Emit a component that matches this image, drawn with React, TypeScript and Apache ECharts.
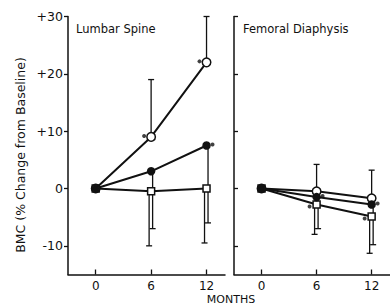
import React, { useEffect, useRef } from "react";
import * as echarts from "echarts";

const months = [0, 6, 12];
const yTicks = [-10, 0, 10, 20, 30];
const xTicks = [0, 6, 12];

const lumbarOpenCircle = [0, 9, 22];
const lumbarOpenCircleErr = [null, 19, 30];
const lumbarFilled = [0, 3, 7.5];
const lumbarFilledErr = [null, -7, -6];
const lumbarSquare = [0, -0.5, 0];
const lumbarSquareErr = [null, -10, -9.5];

const femoralOpenCircle = [0, -0.5, -1.7];
const femoralOpenCircleErr = [null, 4.2, 3.2];
const femoralFilled = [0, -1.5, -2.8];
const femoralFilledErr = [null, -7, -9.8];
const femoralSquare = [0, -2.8, -4.9];
const femoralSquareErr = [null, -8, -11.3];

// significance marks: [month, value]
const lumbarSigLeft = [[6, 9], [12, 22]];
const lumbarSigRight = [[12, 7.5]];
const femoralSigLeft = [[6, -2.8], [12, -4.9]];
const femoralSigRight = [[6, -1.5], [12, -2.8]];

const FONT = "DejaVu Sans";
const INK = "#111";

function pairs(ys: number[]) {
  return months.map((m, i) => [m, ys[i]]);
}
function errData(ys: number[], errs: (number | null)[]) {
  const out: number[][] = [];
  months.forEach((m, i) => {
    if (errs[i] !== null) out.push([m, ys[i], errs[i] as number]);
  });
  return out;
}

function errSeries(panel: number, ys: number[], errs: (number | null)[], off: number) {
  return {
    type: "custom",
    xAxisIndex: panel,
    yAxisIndex: panel,
    data: errData(ys, errs),
    encode: { x: 0, y: [1, 2] },
    z: 1,
    renderItem: (params: any, api: any) => {
      const x = api.value(0);
      const y = api.value(1);
      const e = api.value(2);
      const p0 = api.coord([x, y]);
      const p1 = api.coord([x, e]);
      const px = p0[0] + off;
      const st = { stroke: INK, lineWidth: 1.3 };
      return {
        type: "group",
        children: [
          { type: "line", shape: { x1: px, y1: p0[1], x2: px, y2: p1[1] }, style: st },
          { type: "line", shape: { x1: px - 3, y1: p1[1], x2: px + 3, y2: p1[1] }, style: st },
        ],
      };
    },
  };
}

function lineSeries(panel: number, ys: number[], symbol: string, size: number, fill: string) {
  return {
    type: "line",
    xAxisIndex: panel,
    yAxisIndex: panel,
    data: pairs(ys),
    symbol,
    symbolSize: size,
    showAllSymbol: true,
    z: 3,
    lineStyle: { color: INK, width: 2 },
    itemStyle: { color: fill, borderColor: INK, borderWidth: 1.5 },
  };
}

function sigSeries(panel: number, pts: number[][], offset: number[]) {
  return {
    type: "scatter",
    xAxisIndex: panel,
    yAxisIndex: panel,
    data: pts,
    symbol: "circle",
    symbolSize: 4,
    symbolOffset: offset,
    z: 4,
    itemStyle: { color: INK },
  };
}

function xAxis(panel: number) {
  return {
    type: "value",
    gridIndex: panel,
    min: -3,
    max: 14,
    splitLine: { show: false },
    axisLine: { show: true, onZero: false, lineStyle: { color: INK, width: 1.5 } },
    axisTick: { show: true, inside: true, length: 5, customValues: xTicks, lineStyle: { color: INK, width: 1.3 } },
    axisLabel: {
      show: true,
      customValues: xTicks,
      margin: 5,
      color: INK,
      fontFamily: FONT,
      fontSize: 12,
    },
  };
}

function yAxis(panel: number) {
  return {
    type: "value",
    gridIndex: panel,
    min: -15,
    max: 30,
    splitLine: { show: false },
    axisLine: { show: true, onZero: false, lineStyle: { color: INK, width: 1.5 } },
    axisTick: {
      show: true,
      inside: panel === 1,
      length: 4,
      customValues: yTicks,
      lineStyle: { color: INK, width: 1.3 },
    },
    axisLabel: {
      show: panel === 0,
      customValues: yTicks,
      margin: 5,
      color: INK,
      fontFamily: FONT,
      fontSize: 12.5,
      formatter: (v: number) => (v > 0 ? "+" + v : String(v)),
    },
  };
}

export default function App() {
  const ref = useRef<HTMLDivElement>(null);
  useEffect(() => {
    if (!ref.current) return;
    const chart = echarts.init(ref.current, null, { renderer: "svg" });
    chart.setOption({
      animation: false,
      backgroundColor: "#fff",
      grid: [
        { left: 68, top: 16.5, width: 157, height: 258 },
        { left: 234, top: 16.5, width: 157, height: 258 },
      ],
      xAxis: [xAxis(0), xAxis(1)],
      yAxis: [yAxis(0), yAxis(1)],
      graphic: [
        {
          type: "text",
          left: 76,
          top: 23,
          style: { text: "Lumbar Spine", fontFamily: FONT, fontSize: 11.5, fill: INK },
        },
        {
          type: "text",
          left: 243,
          top: 23,
          style: { text: "Femoral Diaphysis", fontFamily: FONT, fontSize: 11.5, fill: INK },
        },
        {
          type: "text",
          x: 20,
          y: 155,
          rotation: Math.PI / 2,
          style: {
            text: "BMC (% Change from Baseline)",
            fontFamily: FONT,
            fontSize: 12.5,
            fill: INK,
            align: "center",
            verticalAlign: "middle",
          },
        },
        {
          type: "text",
          x: 231,
          y: 305,
          style: {
            text: "MONTHS",
            fontFamily: FONT,
            fontSize: 11,
            fill: INK,
            align: "center",
            verticalAlign: "bottom",
          },
        },
      ],
      series: [
        errSeries(0, lumbarSquare, lumbarSquareErr, -2),
        errSeries(0, lumbarFilled, lumbarFilledErr, 1.5),
        errSeries(0, lumbarOpenCircle, lumbarOpenCircleErr, 0),
        lineSeries(0, lumbarSquare, "rect", 7, "#fff"),
        lineSeries(0, lumbarOpenCircle, "circle", 8.5, "#fff"),
        lineSeries(0, lumbarFilled, "circle", 7, INK),
        sigSeries(0, lumbarSigLeft, [-7, -1]),
        sigSeries(0, lumbarSigRight, [6, -1]),

        errSeries(1, femoralSquare, femoralSquareErr, -2),
        errSeries(1, femoralFilled, femoralFilledErr, 1.5),
        errSeries(1, femoralOpenCircle, femoralOpenCircleErr, 0),
        lineSeries(1, femoralSquare, "rect", 7, "#fff"),
        lineSeries(1, femoralOpenCircle, "circle", 8.5, "#fff"),
        lineSeries(1, femoralFilled, "circle", 7, INK),
        sigSeries(1, femoralSigLeft, [-7, 2]),
        sigSeries(1, femoralSigRight, [6, -1]),
      ],
    });
    return () => chart.dispose();
  }, []);
  return (
    <div
      ref={ref}
      style={{ position: "absolute", left: 0, top: 0, width: 390, height: 305 }}
    />
  );
}
